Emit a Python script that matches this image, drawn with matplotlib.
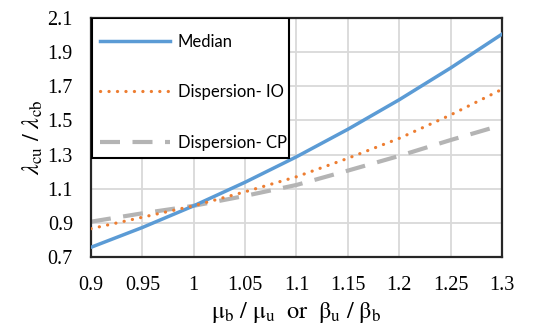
import matplotlib
matplotlib.use('Agg')
import matplotlib.pyplot as plt
from matplotlib.patches import Rectangle
from matplotlib.ticker import FormatStrFormatter, FuncFormatter

# ratio on the x axis
ratio = [0.9, 0.95, 1.0, 1.05, 1.1, 1.15, 1.2, 1.25, 1.3]
# lambda_cu / lambda_cb for each case
median = [0.757, 0.873, 1.0, 1.138, 1.287, 1.448, 1.621, 1.807, 2.005]
disp_io = [0.866, 0.933, 1.0, 1.082, 1.170, 1.278, 1.395, 1.532, 1.682]
disp_cp = [0.907, 0.956, 1.0, 1.058, 1.122, 1.206, 1.292, 1.385, 1.473]

plt.rcParams['mathtext.fontset'] = 'stix'

fig = plt.figure(figsize=(5.56, 3.27), dpi=100)
ax = fig.add_axes([0.1637, 0.214, 0.739, 0.731])

ax.plot(ratio, median, color='#5B9BD5', lw=2.5, label='Median', zorder=3)
ax.plot(ratio, disp_io, color='#ED7D31', lw=2.3, linestyle=(0, (0.05, 2.6)),
        dash_capstyle='round', label='Dispersion- IO', zorder=3)
ax.plot(ratio, disp_cp, color='#B4B4B4', lw=3.0, linestyle=(0, (4.8, 3.0)),
        label='Dispersion- CP', zorder=2)

ax.set_xlim(0.9, 1.3)
ax.set_ylim(0.7, 2.1)
ax.set_xticks([0.9 + 0.05 * i for i in range(9)])
ax.set_yticks([0.7 + 0.2 * i for i in range(8)])
ax.xaxis.set_major_formatter(FuncFormatter(lambda v, p: '%g' % round(v, 2)))
ax.yaxis.set_major_formatter(FormatStrFormatter('%.1f'))
ax.grid(True, color='#d9d9d9', lw=1.3)
ax.set_axisbelow(True)
ax.tick_params(axis='y', length=0, pad=13, labelsize=14.5)
ax.tick_params(axis='x', length=0, pad=14, labelsize=14.5)
for lab in ax.get_xticklabels() + ax.get_yticklabels():
    lab.set_fontfamily('Liberation Serif')
for s in ax.spines.values():
    s.set_linewidth(1.6)
    s.set_color('#262626')

ax.set_ylabel(r'$\lambda_{\mathrm{cu}}\ /\ \lambda_{\mathrm{cb}}$', fontsize=17.5, labelpad=2)
ax.set_xlabel(r'$\mathrm{\mu_b\ /\ \mu_u\ \ or\ \ \beta_u\ /\ \beta_b}$', fontsize=17.5, labelpad=3)

# legend box drawn as its own frame
box = Rectangle((0.002, 0.414), 0.48, 0.584, transform=ax.transAxes,
                facecolor='white', edgecolor='black', lw=1.5, zorder=4)
ax.add_patch(box)
leg = ax.legend(loc='upper left', bbox_to_anchor=(0.022, 0.935), frameon=False,
                handlelength=4.2, handletextpad=0.45, labelspacing=2.08,
                borderpad=0.0, borderaxespad=0.0,
                prop={'family': 'Lato', 'size': 12})
leg.set_zorder(5)

fig.savefig('out.png', dpi=100)
